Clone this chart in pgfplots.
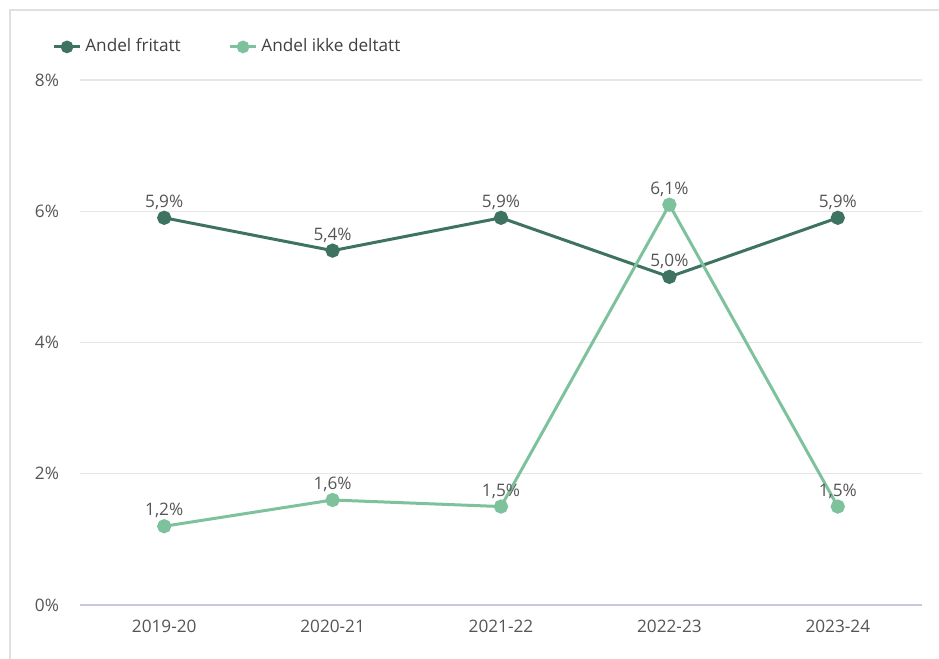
\documentclass[border=0pt]{standalone}
\usepackage{pgfplots}
\pgfplotsset{compat=1.18}
\usepackage{fontspec}
\setmainfont{Open Sans}
\definecolor{darkg}{HTML}{3E7362}
\definecolor{lightg}{HTML}{7EC29D}
\definecolor{gridc}{HTML}{E6E6E6}
\definecolor{txt}{HTML}{555555}
\begin{document}
\begin{tikzpicture}[font=\fontsize{8.6}{10}\selectfont]
\useasboundingbox (-40pt,-27pt) rectangle (429.5pt,302.5pt);
\draw[black!12, line width=0.8pt] (-35pt,-27pt) -- (-35pt,297.5pt) -- (429.5pt,297.5pt);
\begin{axis}[
    at={(0,0)}, anchor=south west,
    scale only axis,
    width=421pt, height=262.5pt,
    xmin=-0.5, xmax=4.5,
    ymin=0, ymax=8,
    xtick={0,1,2,3,4},
    xticklabels={2019-20,2020-21,2021-22,2022-23,2023-24},
    ytick={0,2,4,6,8},
    yticklabel={\pgfmathprintnumber{\tick}\%},
    /pgf/number format/assume math mode=true,
    ymajorgrids=true,
    grid style={gridc, line width=0.6pt},
    axis x line*=bottom,
    axis y line*=left,
    y axis line style={draw=none},
    x axis line style={draw=blue!25!gray!35, line width=0.6pt, -},
    major tick length=0pt,
    tick label style={text=txt},
    xticklabel style={yshift=-4pt},
    yticklabel style={xshift=-7pt},
    legend style={at={(-0.04,1.063)}, anchor=west, draw=none, fill=none,
        legend columns=-1, text=black!75,
        /tikz/every even column/.append style={column sep=22pt}},
    legend image code/.code={
        \draw[#1, line width=1.5pt] (0cm,0cm) -- (0.45cm,0cm);
        \fill[#1] (0.225cm,0cm) circle (2.4pt);},
    nodes near coords={\pgfmathprintnumber[fixed,fixed zerofill,precision=1,use comma]{\pgfplotspointmeta}\%},
    nodes near coords style={text=txt, font=\fontsize{8.6}{10}\selectfont},
    clip=false,
]
\addplot[darkg, line width=1.5pt, mark=*, mark size=2.8pt, mark options={fill=darkg, draw=darkg}]
    coordinates {(0,5.9) (1,5.4) (2,5.9) (3,5.0) (4,5.9)};
\addplot[lightg, line width=1.5pt, mark=*, mark size=2.8pt, mark options={fill=lightg, draw=lightg}]
    coordinates {(0,1.2) (1,1.6) (2,1.5) (3,6.1) (4,1.5)};
\legend{Andel fritatt, Andel ikke deltatt}
\end{axis}
\end{tikzpicture}
\end{document}
